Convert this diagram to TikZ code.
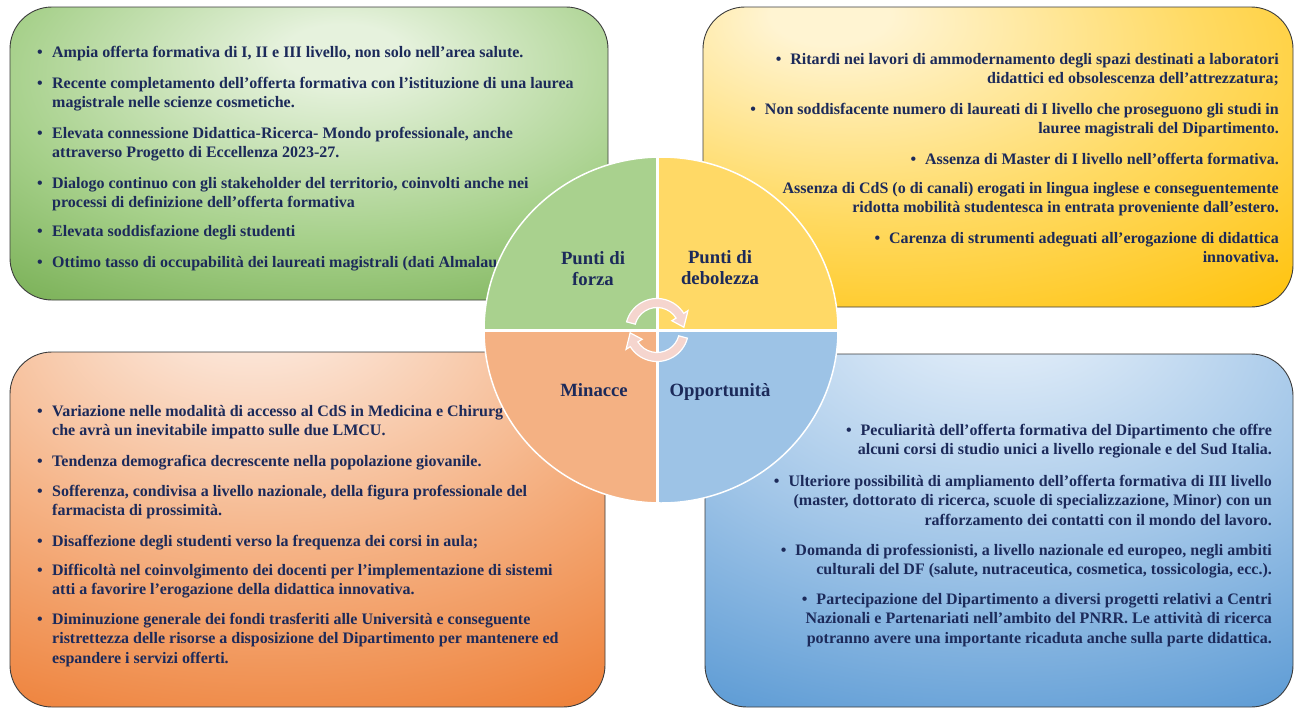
\documentclass[tikz,border=0pt]{standalone}
\usepackage{fontspec}
\setmainfont{Liberation Serif}
\definecolor{navy}{HTML}{1C2A5A}
\definecolor{bord}{HTML}{3C3C3C}
\definecolor{gA}{HTML}{E6F2DD}\definecolor{gB}{HTML}{A6D08A}\definecolor{gC}{HTML}{6AA544}
\definecolor{yA}{HTML}{FFF4D2}\definecolor{yB}{HTML}{FFDA63}\definecolor{yC}{HTML}{FFC20A}
\definecolor{oA}{HTML}{FCEADF}\definecolor{oB}{HTML}{F5B386}\definecolor{oC}{HTML}{EE8038}
\definecolor{bA}{HTML}{E3EEF9}\definecolor{bB}{HTML}{A2C6E8}\definecolor{bC}{HTML}{5B9AD4}
\definecolor{qg}{HTML}{A9D18E}\definecolor{qy}{HTML}{FFD966}
\definecolor{qo}{HTML}{F4B183}\definecolor{qb}{HTML}{9DC3E6}
\definecolor{cyc}{HTML}{F5D5CE}
\pgfdeclareradialshading{gshade}{\pgfpoint{3bp}{18bp}}{color(0bp)=(gA); color(5bp)=(gA); color(28bp)=(gB); color(50bp)=(gC); color(100bp)=(gC)}
\pgfdeclareradialshading{yshade}{\pgfpoint{-15bp}{25bp}}{color(0bp)=(yA); color(5bp)=(yA); color(28bp)=(yB); color(50bp)=(yC); color(100bp)=(yC)}
\pgfdeclareradialshading{oshade}{\pgfpoint{-5bp}{35bp}}{color(0bp)=(oA); color(5bp)=(oA); color(28bp)=(oB); color(50bp)=(oC); color(100bp)=(oC)}
\pgfdeclareradialshading{bshade}{\pgfpoint{0bp}{35bp}}{color(0bp)=(bA); color(5bp)=(bA); color(28bp)=(bB); color(50bp)=(bC); color(100bp)=(bC)}
\newcommand{\myb}{\makebox[15pt][l]{\textbullet}}
\newcommand{\myi}{\hspace*{15pt}}
\newcommand{\myr}{\textbullet\hspace{9pt}}
\tikzset{
  boxst/.style={draw=bord, line width=0.9pt, rounded corners=42pt},
  txt/.style={font=\bfseries\fontsize{16}{19.7}\selectfont, text=navy, inner sep=0pt},
  txtL/.style={txt, anchor=base west, align=left},
  txtR/.style={txt, anchor=base east, align=right},
  lab/.style={font=\bfseries\fontsize{18.7}{21.5}\selectfont, text=navy, inner sep=0pt, anchor=base, align=center},
  cycst/.style={fill=cyc, draw=white, line width=1.2pt}
}
\begin{document}
\begin{tikzpicture}[x=1pt,y=-1pt]
\useasboundingbox (0,0) rectangle (1301,710);
\fill[white] (0,0) rectangle (1301,710);
% boxes
\path[boxst, shade, shading=gshade] (10,7) rectangle (608,300);
\path[boxst, shade, shading=yshade] (703,7) rectangle (1293,307);
\path[boxst, shade, shading=oshade] (10,352) rectangle (605,707);
\path[boxst, shade, shading=bshade] (705,354) rectangle (1293,707);
% green texts (anchor = baseline of last line)
\node[txtL] (g1) at (37,57) {\myb Ampia offerta formativa di I, II e III livello, non solo nell’area salute.};
\node[txtL] (g2) at (37,107.7) {\myb Recente completamento dell’offerta formativa con l’istituzione di una laurea\\\myi magistrale nelle scienze cosmetiche.};
\node[txtL] (g3) at (37,157.7) {\myb Elevata connessione Didattica-Ricerca- Mondo professionale, anche\\\myi attraverso Progetto di Eccellenza 2023-27.};
\node[txtL] (g4) at (37,207.7) {\myb Dialogo continuo con gli stakeholder del territorio, coinvolti anche nei\\\myi processi di definizione dell’offerta formativa};
\node[txtL] (g5) at (37,236) {\myb Elevata soddisfazione degli studenti};
\node[txtL] (g6) at (37,267) {\myb Ottimo tasso di occupabilità dei laureati magistrali (dati Almalau};
% yellow texts
\node[txtR] (y1) at (1279,83.7) {\myr Ritardi nei lavori di ammodernamento degli spazi destinati a laboratori\\didattici ed obsolescenza dell'attrezzatura;};
\node[txtR] (y2) at (1279,133.7) {\myr Non soddisfacente numero di laureati di I livello che proseguono gli studi in\\lauree magistrali del Dipartimento.};
\node[txtR] (y3) at (1279,164) {\myr Assenza di Master di I livello nell’offerta formativa.};
\node[txtR] (y4) at (1279,212.7) {Assenza di CdS (o di canali) erogati in lingua inglese e conseguentemente\\ridotta mobilità studentesca in entrata proveniente dall’estero.};
\node[txtR] (y5) at (1279,262.7) {\myr Carenza di strumenti adeguati all’erogazione di didattica\\innovativa.};
% orange texts
\node[txtL] (o1) at (37,435.7) {\myb Variazione nelle modalità di accesso al CdS in Medicina e Chirurg\\\myi che avrà un inevitabile impatto sulle due LMCU.};
\node[txtL] (o2) at (37,466) {\myb Tendenza demografica decrescente nella popolazione giovanile.};
\node[txtL] (o3) at (37,515.7) {\myb Sofferenza, condivisa a livello nazionale, della figura professionale del\\\myi farmacista di prossimità.};
\node[txtL] (o4) at (37,546) {\myb Disaffezione degli studenti verso la frequenza dei corsi in aula;};
\node[txtL] (o5) at (37,594.7) {\myb Difficoltà nel coinvolgimento dei docenti per l’implementazione di sistemi\\\myi atti a favorire l'erogazione della didattica innovativa.};
\node[txtL] (o6) at (37,663.4) {\myb Diminuzione generale dei fondi trasferiti alle Università e conseguente\\\myi ristrettezza delle risorse a disposizione del Dipartimento per mantenere ed\\\myi espandere i servizi offerti.};
% blue texts
\node[txtR] (b1) at (1272,454.7) {\myr Peculiarità dell'offerta formativa del Dipartimento che offre\\alcuni corsi di studio unici a livello regionale e del Sud Italia.};
\node[txtR] (b2) at (1272,525.4) {\myr Ulteriore possibilità di ampliamento dell’offerta formativa di III livello\\(master, dottorato di ricerca, scuole di specializzazione, Minor) con un\\rafforzamento dei contatti con il mondo del lavoro.};
\node[txtR] (b3) at (1272,574.7) {\myr Domanda di professionisti, a livello nazionale ed europeo, negli ambiti\\culturali del DF (salute, nutraceutica, cosmetica, tossicologia, ecc.).};
\node[txtR] (b4) at (1272,643.4) {\myr Partecipazione del Dipartimento a diversi progetti relativi a Centri\\Nazionali e Partenariati nell’ambito del PNRR. Le attività di ricerca\\potranno avere una importante ricaduta anche sulla parte didattica.};
% central circle
\begin{scope}
\clip (661,330) ellipse[x radius=177, y radius=173];
\fill[qg] (480,150) rectangle (657,330);
\fill[qy] (657,150) rectangle (842,330);
\fill[qo] (480,330) rectangle (657,510);
\fill[qb] (657,330) rectangle (842,510);
\draw[white, line width=3pt] (657,150) -- (657,510) (480,330) -- (842,330);
\end{scope}
\draw[white, line width=1.5pt] (661,330) ellipse[x radius=177, y radius=173];
% cycle arrows
\begin{scope}[shift={(657,330)}]
\path[cycst] (-165:31.5) arc[start angle=-165, end angle=-32, radius=31.5] -- (-32:36.5) -- (-6:27) -- (-32:17.5) -- (-32:22.5) arc[start angle=-32, end angle=-165, radius=22.5] -- cycle;
\path[cycst] (15:31.5) arc[start angle=15, end angle=148, radius=31.5] -- (148:36.5) -- (174:27) -- (148:17.5) -- (148:22.5) arc[start angle=148, end angle=15, radius=22.5] -- cycle;
\end{scope}
% labels
\node[lab] (lf) at (593,285.5) {Punti di\\forza};
\node[lab] (ld) at (720,284.5) {Punti di\\debolezza};
\node[lab] (lm) at (594,396) {Minacce};
\node[lab] (lo) at (720,396) {Opportunità};
\end{tikzpicture}
\end{document}
